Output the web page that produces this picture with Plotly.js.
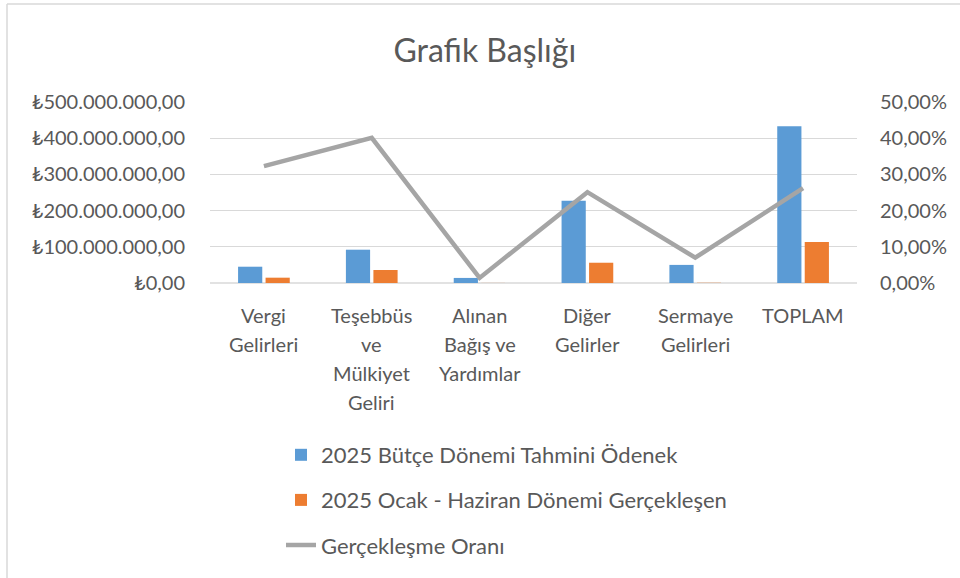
<!DOCTYPE html>
<html>
<head>
<meta charset="utf-8">
<script src="https://cdn.plot.ly/plotly-3.0.1.min.js"></script>
<style>html,body{margin:0;padding:0;background:#fff}#chart{width:960px;height:578px}</style>
</head>
<body>
<div id="chart"></div>
<script>
const categories = ["Vergi Gelirleri", "Teşebbüs ve Mülkiyet Geliri", "Alınan Bağış ve Yardımlar", "Diğer Gelirler", "Sermaye Gelirleri", "TOPLAM"];
const categoryLines = [["Vergi", "Gelirleri"], ["Teşebbüs", "ve", "Mülkiyet", "Geliri"], ["Alınan", "Bağış ve", "Yardımlar"], ["Diğer", "Gelirler"], ["Sermaye", "Gelirleri"], ["TOPLAM"]];
const seriesNames = ["2025 Bütçe Dönemi Tahmini Ödenek", "2025 Ocak - Haziran Dönemi Gerçekleşen", "Gerçekleşme Oranı"];
const budget = [45000000, 92000000, 14000000, 227000000, 50000000, 433000000];
const realized = [14700000, 36000000, 200000, 56000000, 600000, 113000000];
const ratio = [0.323, 0.401, 0.014, 0.251, 0.070, 0.262];
const leftTicks = [0, 100000000, 200000000, 300000000, 400000000, 500000000];
const leftTickText = ["₺0,00", "₺100.000.000,00", "₺200.000.000,00", "₺300.000.000,00", "₺400.000.000,00", "₺500.000.000,00"];
const rightTicks = [0, 0.1, 0.2, 0.3, 0.4, 0.5];
const rightTickText = ["0,00%", "10,00%", "20,00%", "30,00%", "40,00%", "50,00%"];

const FONT = "Lato, 'Open Sans', sans-serif";
const TXT = "#595959";

// plot area in pixels
const L = 210, R = 857, T = 102, B = 283;
const W = 960, H = 578;
const px = x => (x - L) / (R - L);
const py = y => (B - y) / (B - T);

const traces = [
  {type: "bar", name: seriesNames[0], x: categories, y: budget, marker: {color: "#5b9bd5"}, legendgroup: "a", yaxis: "y"},
  {type: "bar", name: seriesNames[1], x: categories, y: realized, marker: {color: "#ed7d31"}, legendgroup: "b", yaxis: "y"},
  {type: "scatter", mode: "lines", name: seriesNames[2], x: categories, y: ratio, line: {color: "#a5a5a5", width: 4.5}, legendgroup: "c", yaxis: "y2"}
];

const annotations = [];
categoryLines.forEach((lines, i) => {
  lines.forEach((t, j) => {
    annotations.push({text: t, x: categories[i], xref: "x", yref: "paper", y: py(315 + j * 29), yanchor: "middle", xanchor: "center", showarrow: false, font: {family: FONT, size: 20, color: TXT}});
  });
});

const layout = {
  width: W, height: H,
  margin: {l: L, r: W - R, t: T, b: H - B, autoexpand: false},
  paper_bgcolor: "#fff", plot_bgcolor: "#fff",
  title: {text: "Grafik Başlığı", x: 0.505, xanchor: "center", y: 1 - 51 / H, yanchor: "middle", font: {family: FONT, size: 32, color: TXT}},
  barmode: "group", bargap: 0.49, bargroupgap: 0.12,
  showlegend: true,
  legend: {x: px(281), xanchor: "left", y: py(434), yanchor: "top", orientation: "v", tracegroupgap: 13.5, font: {family: FONT, size: 22, color: TXT}, bgcolor: "rgba(0,0,0,0)"},
  xaxis: {type: "category", showticklabels: false, showgrid: false, zeroline: false, showline: false, ticks: ""},
  yaxis: {range: [0, 500000000], tickvals: leftTicks, ticktext: leftTickText, showgrid: true, gridcolor: "#d9d9d9", gridwidth: 1, zeroline: false, showline: false, ticks: "", ticklabelstandoff: 24, tickfont: {family: FONT, size: 20, color: TXT}},
  yaxis2: {range: [0, 0.5], overlaying: "y", side: "right", tickvals: rightTicks, ticktext: rightTickText, showgrid: false, zeroline: false, showline: false, ticks: "", ticklabelstandoff: 22, tickfont: {family: FONT, size: 20, color: TXT}},
  annotations: annotations,
  shapes: [
    {type: "line", xref: "paper", yref: "paper", x0: px(7), x1: px(960), y0: py(4), y1: py(4), line: {color: "#d9d9d9", width: 1.5}},
    {type: "line", xref: "paper", yref: "paper", x0: px(7), x1: px(7), y0: py(4), y1: py(578), line: {color: "#d9d9d9", width: 1.5}},
    {type: "line", xref: "paper", yref: "paper", x0: 0, x1: 1, y0: 0, y1: 0, line: {color: "#d9d9d9", width: 1.5}, layer: "below"}
  ]
};

Plotly.newPlot("chart", traces, layout, {displayModeBar: false, staticPlot: true});
</script>
</body>
</html>
